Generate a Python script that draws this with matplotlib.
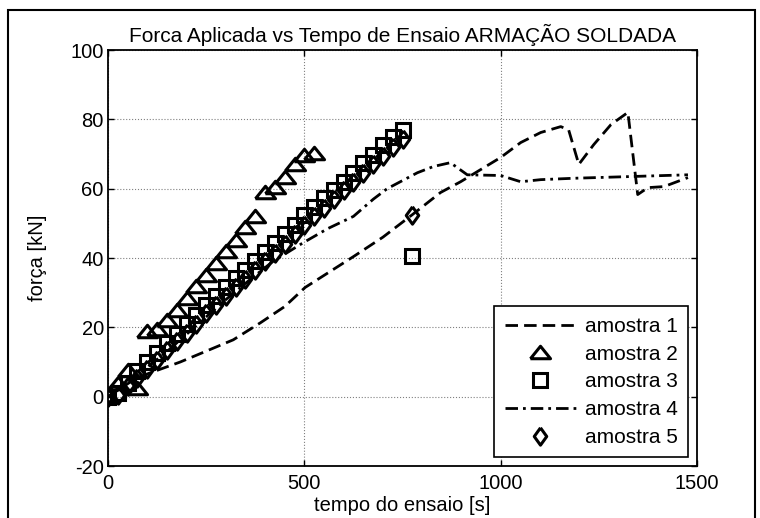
import matplotlib
matplotlib.use("Agg")
import matplotlib.pyplot as plt
from matplotlib.patches import Rectangle

plt.rcParams['font.family'] = ['Liberation Sans', 'DejaVu Sans']
plt.rcParams['axes.unicode_minus'] = False

# amostra 1 (dashed line)
t1 = [0, 74, 184, 319, 388, 450, 502, 625, 700, 775, 847, 898, 1000, 1051,
      1102, 1153, 1173, 1199, 1237, 1281, 1324, 1349, 1375, 1416, 1477]
f1 = [0, 5.5, 10, 16.4, 21.3, 26, 31.5, 40.4, 46, 52.5, 58.9, 62, 69, 73.3,
      76.2, 77.9, 77, 67, 72.7, 78.5, 82, 58.3, 60.3, 60.6, 63.2]

# amostra 2 (triangles)
t2 = [0, 25, 50, 75, 100, 125, 150, 175, 200, 225, 250, 275, 300, 325, 350,
      375, 400, 425, 450, 475, 500, 525]
f2 = [0.5, 4, 7.8, 2.6, 18.8, 19.5, 22.2, 25.1, 28.5, 31.8, 35.2, 38.7, 41.9,
      45.3, 48.8, 52.2, 58.9, 60.6, 63.5, 67, 69.8, 70.4]

# amostra 3 (squares)
t3 = [0, 25, 50, 75, 100, 125, 150, 175, 200, 225, 250, 275, 300, 325, 350,
      375, 400, 425, 450, 475, 500, 525, 550, 575, 600, 625, 650, 675, 700,
      725, 750, 775]
f3 = [0, 1, 4, 7.5, 10, 12.5, 15.5, 18, 21, 23.5, 26.5, 29, 31.5, 34.3, 36.6,
      39, 41.6, 44.4, 46.8, 49.6, 52.5, 54.8, 57.4, 59.7, 62, 64.6, 67.5, 69.8,
      72.7, 75, 77, 40.7]

# amostra 4 (dash-dot line)
t4 = [0, 50, 100, 150, 200, 250, 300, 362, 420, 497, 560, 625, 676, 711, 788,
      829, 872, 915, 1000, 1051, 1102, 1186, 1332, 1477]
f4 = [0, 4, 8.5, 13, 18, 23, 28, 33.8, 39, 44.4, 48.5, 52, 57, 60, 64.6,
      66.4, 67.5, 64, 63.8, 62, 62.6, 63, 63.5, 64]

# amostra 5 (diamonds)
t5 = [0, 25, 50, 75, 100, 125, 150, 175, 200, 225, 250, 275, 300, 325, 350,
      375, 400, 425, 450, 475, 500, 525, 550, 575, 600, 625, 650, 675, 700,
      725, 750, 775]
f5 = [0, 0.5, 3, 5.5, 8, 10.5, 13.5, 16, 18.5, 21, 24, 26.5, 29, 31.5, 34,
      36.5, 39, 41.5, 44, 47, 49.5, 52, 54.5, 57, 59.5, 62, 64.5, 67, 69.5,
      72, 74.2, 52.5]

xticks = [0, 500, 1000, 1500]
yticks = [-20, 0, 20, 40, 60, 80, 100]
labels = ['amostra 1', 'amostra 2', 'amostra 3', 'amostra 4', 'amostra 5']

tri = [(-1, -0.62), (1, -0.62), (0, 0.62), (-1, -0.62)]
dia = [(0, 1), (0.72, 0), (0, -1), (-0.72, 0), (0, 1)]

fig = plt.figure(figsize=(7.6, 5.18), dpi=100)
ax = fig.add_axes([108 / 760, 52 / 518, 589 / 760, 416 / 518])

ax.plot(t1, f1, color='k', lw=2, ls=(0, (4.5, 2.2)), label=labels[0])
ax.plot(t2, f2, ls='none', marker=tri, ms=14.5, mew=2.2, mfc='none', mec='k', label=labels[1])
ax.plot(t3, f3, ls='none', marker='s', ms=10, mew=2.2, mfc='none', mec='k', label=labels[2])
ax.plot(t4, f4, color='k', lw=2, ls=(0, (4.5, 1.8, 1, 1.8)), label=labels[3])
ax.plot(t5, f5, ls='none', marker=dia, ms=12.5, mew=2.2, mfc='none', mec='k', label=labels[4])

ax.set_xlim(0, 1500)
ax.set_ylim(-20, 100)
ax.set_xticks(xticks)
ax.set_yticks(yticks)
ax.grid(True, color='0.5', ls=':', lw=0.8)
ax.tick_params(direction='in', length=4, width=1, top=True, right=True,
               labelsize=14.5)
ax.tick_params(axis='y', pad=3)
ax.tick_params(axis='x', pad=6)
for s in ax.spines.values():
    s.set_linewidth(1.3)

ax.set_title('Forca Aplicada vs Tempo de Ensaio ARMAÇÃO SOLDADA', fontsize=15, pad=6)
ax.set_xlabel('tempo do ensaio [s]', fontsize=14.5, labelpad=2)
ax.set_ylabel('força [kN]', fontsize=14.5, labelpad=17)

leg = ax.legend(loc='lower right', fontsize=15, handlelength=3.4,
                handletextpad=0.45, labelspacing=0.42, borderpad=0.5,
                borderaxespad=0.42, fancybox=False, framealpha=1)
leg.get_frame().set_edgecolor('k')
leg.get_frame().set_linewidth(1.2)

fig.patches.append(Rectangle((8 / 760, -0.1), 747 / 760, 1.1 - 10 / 518,
                             transform=fig.transFigure, fill=False,
                             ec='k', lw=1.5))

fig.savefig('out.png', dpi=100)
